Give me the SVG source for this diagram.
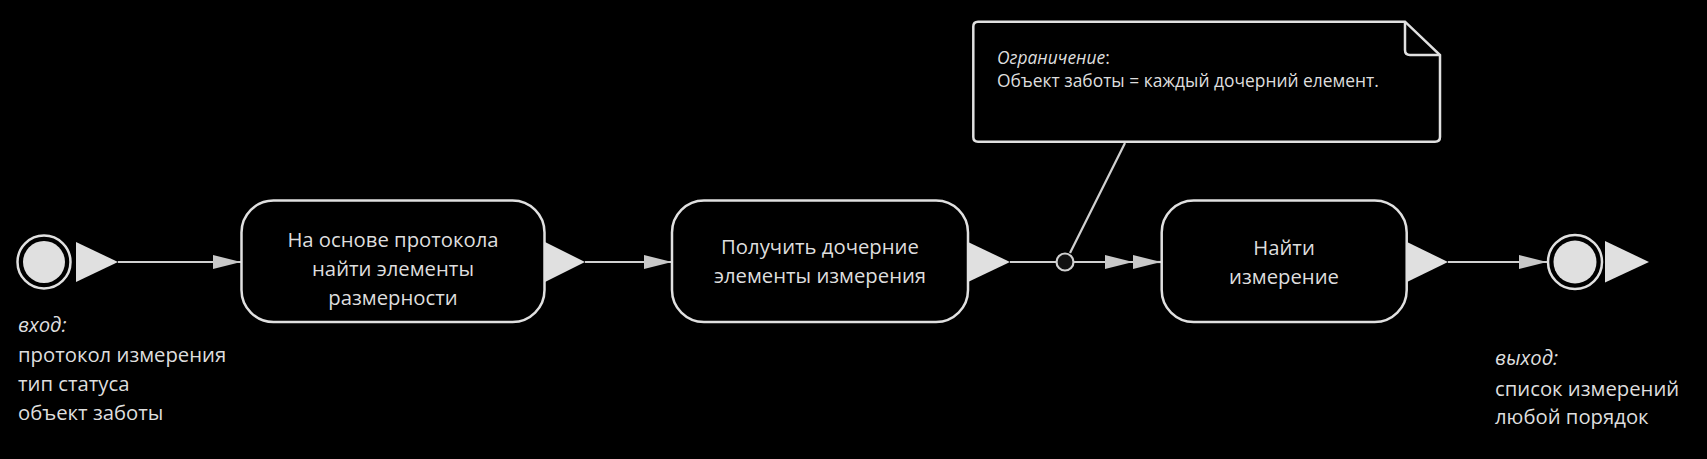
<svg xmlns="http://www.w3.org/2000/svg" width="1707" height="459" viewBox="0 0 1707 459">
<defs>
<style>
.bg{fill:#000}
.box{fill:#000;stroke:#e0e0e0;stroke-width:2.5}
.tri{fill:#e0e0e0;stroke:none}
.ring{fill:#000;stroke:#e0e0e0;stroke-width:2.5}
.dot{fill:#e0e0e0}
.edge{stroke:#d0d0d0;stroke-width:2.2;fill:none}
.t{font-family:"Open Sans","Noto Sans","DejaVu Sans",sans-serif;font-size:20.3px;fill:#dedede}
.tc{text-anchor:middle}
.i{font-style:italic}
.n{font-size:17.4px}
</style>
<marker id="ah" viewBox="0 0 28 14" refX="28" refY="7" markerWidth="28" markerHeight="14" markerUnits="userSpaceOnUse" orient="auto">
<path d="M0,0 L28,7 L0,14 Z" fill="#c8c8c8"/>
</marker>
</defs>
<rect class="bg" x="0" y="0" width="1707" height="459"/>

<g id="connectors">
<line class="edge" x1="118" y1="262" x2="241" y2="262" marker-end="url(#ah)"/>
<line class="edge" x1="585" y1="262" x2="672" y2="262" marker-end="url(#ah)"/>
<line class="edge" x1="1010" y1="262" x2="1056" y2="262"/>
<line class="edge" x1="1074" y1="262" x2="1133" y2="262" marker-end="url(#ah)"/>
<line class="edge" x1="1133" y1="262" x2="1161" y2="262" marker-end="url(#ah)"/>
<line class="edge" x1="1448" y1="262" x2="1547" y2="262" marker-end="url(#ah)"/>
<line class="edge" x1="1070" y1="253" x2="1125" y2="143"/>
<circle cx="1065" cy="262" r="8.5" fill="#111" stroke="#d0d0d0" stroke-width="2.2"/>
</g>

<g id="start">
<circle class="ring" cx="44" cy="262" r="26.5"/>
<circle class="dot" cx="44" cy="262" r="21"/>
<path class="tri" d="M76,242 L118,262 L76,282 Z"/>
<text class="t" x="18" y="332"><tspan class="i">вход:</tspan><tspan x="18" y="362">протокол измерения</tspan><tspan x="18" y="391">тип статуса</tspan><tspan x="18" y="420">объект заботы</tspan></text>
</g>

<g id="step1">
<rect class="box" x="241.5" y="200.5" width="303" height="121.5" rx="32"/>
<path class="tri" d="M545,242 L585,262 L545,282 Z"/>
<text class="t tc" x="393" y="247">На основе протокола<tspan x="393" y="276">найти элементы</tspan><tspan x="393" y="305">размерности</tspan></text>
</g>

<g id="step2">
<rect class="box" x="672" y="200.5" width="296" height="121.5" rx="32"/>
<path class="tri" d="M968,242 L1010,262 L968,282 Z"/>
<text class="t tc" x="820" y="254">Получить дочерние<tspan x="820" y="283">элементы измерения</tspan></text>
</g>

<g id="note">
<path class="box" d="M978,21.7 L1405,21.7 L1440,55 L1440,137 Q1440,141.7 1435,141.7 L978,141.7 Q973.3,141.7 973.3,137 L973.3,26.5 Q973.3,21.7 978,21.7 Z"/>
<path d="M1405,21.7 L1405,50 Q1405,55 1410,55 L1440,55" fill="none" stroke="#e0e0e0" stroke-width="2.5"/>
<text class="t n" x="997" y="64"><tspan class="i">Ограничение</tspan>:<tspan x="997" y="87">Объект заботы = каждый дочерний елемент.</tspan></text>
</g>

<g id="step3">
<rect class="box" x="1161.7" y="200.5" width="245" height="121.5" rx="32"/>
<path class="tri" d="M1407,242 L1448,262 L1407,282 Z"/>
<text class="t tc" x="1284" y="255">Найти<tspan x="1284" y="284">измерение</tspan></text>
</g>

<g id="end">
<circle class="ring" cx="1575" cy="262" r="27"/>
<circle class="dot" cx="1575" cy="262" r="21.5"/>
<path class="tri" d="M1605,241 L1649,262 L1605,282.5 Z"/>
<text class="t" x="1495" y="365"><tspan class="i">выход:</tspan><tspan x="1495" y="396">список измерений</tspan><tspan x="1495" y="424">любой порядок</tspan></text>
</g>
</svg>
